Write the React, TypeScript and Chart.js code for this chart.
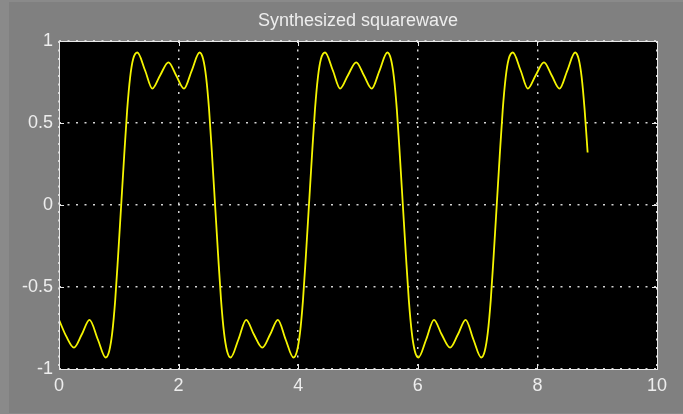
import React, { useEffect, useRef } from "react";
import { Chart, registerables } from "chart.js";

Chart.register(...registerables);

const TITLE = "Synthesized squarewave";

const xValues = [
  0.0, 0.12, 0.25, 0.38, 0.51, 0.65, 0.78, 0.84, 0.89, 0.94, 0.99, 1.04, 1.09, 1.14, 1.19, 1.24,
  1.31, 1.44, 1.56, 1.69, 1.83, 1.96, 2.09, 2.22, 2.35, 2.41, 2.46, 2.51, 2.56, 2.61, 2.66, 2.71,
  2.76, 2.81, 2.87, 3.0, 3.13, 3.26, 3.4, 3.53, 3.66, 3.79, 3.92, 3.98, 4.03, 4.08, 4.13, 4.18,
  4.23, 4.28, 4.33, 4.38, 4.45, 4.58, 4.7, 4.83, 4.97, 5.1, 5.23, 5.36, 5.49, 5.55, 5.6, 5.65,
  5.7, 5.75, 5.8, 5.85, 5.9, 5.95, 6.01, 6.14, 6.27, 6.4, 6.54, 6.67, 6.8, 6.93, 7.06, 7.12,
  7.17, 7.22, 7.27, 7.32, 7.37, 7.42, 7.47, 7.52, 7.59, 7.72, 7.84, 7.97, 8.11, 8.24, 8.37, 8.5,
  8.63, 8.69, 8.74, 8.79, 8.84,
];

const yValues = [
  -0.7, -0.8, -0.87, -0.79, -0.7, -0.82, -0.93, -0.89, -0.78, -0.58, -0.3, 0.0, 0.3, 0.58, 0.78, 0.89,
  0.93, 0.82, 0.71, 0.79, 0.87, 0.79, 0.71, 0.82, 0.93, 0.89, 0.78, 0.58, 0.3, 0.0, -0.3, -0.58,
  -0.78, -0.89, -0.93, -0.82, -0.7, -0.79, -0.87, -0.79, -0.7, -0.82, -0.93, -0.89, -0.78, -0.58, -0.3, 0.0,
  0.3, 0.58, 0.78, 0.89, 0.93, 0.82, 0.71, 0.79, 0.87, 0.79, 0.71, 0.82, 0.93, 0.89, 0.78, 0.58,
  0.3, 0.0, -0.3, -0.58, -0.78, -0.89, -0.93, -0.82, -0.7, -0.79, -0.87, -0.79, -0.7, -0.82, -0.93, -0.89,
  -0.78, -0.58, -0.3, 0.0, 0.3, 0.58, 0.78, 0.89, 0.93, 0.82, 0.71, 0.79, 0.87, 0.79, 0.71, 0.82,
  0.93, 0.89, 0.78, 0.58, 0.32,
];

const xTickValues = [0, 2, 4, 6, 8, 10];
const xTickLabels = ["0", "2", "4", "6", "8", "10"];
const yTickValues = [-1, -0.5, 0, 0.5, 1];
const yTickLabels = ["-1", "-0.5", "0", "0.5", "1"];

const FONT = '"Liberation Sans", Arial, sans-serif';
const TEXT_COLOR = "#ededed";
const FRAME_COLOR = "#e8e8e8";
const GRID_COLOR = "#d4d4d4";

export default function App() {
  const ref = useRef<HTMLCanvasElement>(null);

  useEffect(() => {
    const canvas = ref.current;
    if (!canvas) return;

    const bgPlugin = {
      id: "bgPlugin",
      beforeDraw(chart: any) {
        const { ctx, chartArea: a, width, height } = chart;
        ctx.save();
        ctx.fillStyle = "#8a8a8a";
        ctx.fillRect(0, 0, width, height);
        ctx.fillStyle = "#808080";
        ctx.fillRect(9, 2, width - 9, height - 3);
        ctx.fillStyle = "#000000";
        ctx.fillRect(a.left, a.top, a.right - a.left, a.bottom - a.top);
        ctx.restore();
      },
    };

    const framePlugin = {
      id: "framePlugin",
      afterDatasetsDraw(chart: any) {
        const { ctx, chartArea: a, scales } = chart;
        ctx.save();
        ctx.strokeStyle = FRAME_COLOR;
        ctx.lineWidth = 1;
        ctx.setLineDash([]);
        ctx.beginPath();
        for (const v of xTickValues) {
          const px = Math.round(scales.x.getPixelForValue(v)) + 0.5;
          ctx.moveTo(px, a.top);
          ctx.lineTo(px, a.top + 5);
          ctx.moveTo(px, a.bottom);
          ctx.lineTo(px, a.bottom - 5);
        }
        for (const v of yTickValues) {
          const py = Math.round(scales.y.getPixelForValue(v)) + 0.5;
          ctx.moveTo(a.left, py);
          ctx.lineTo(a.left + 5, py);
          ctx.moveTo(a.right, py);
          ctx.lineTo(a.right - 5, py);
        }
        ctx.stroke();
        ctx.strokeRect(a.left + 0.5, a.top + 0.5, a.right - a.left, a.bottom - a.top);
        ctx.restore();
      },
    };

    const tickFont = { family: FONT, size: 18, lineHeight: 1.2 };

    const chart = new Chart(canvas, {
      type: "line",
      data: {
        datasets: [
          {
            data: xValues.map((x, i) => ({ x, y: yValues[i] })),
            borderColor: "#f5f500",
            borderWidth: 1.8,
            pointRadius: 0,
            fill: false,
            cubicInterpolationMode: "monotone",
          },
        ],
      },
      options: {
        responsive: false,
        animation: false,
        devicePixelRatio: 1,
        layout: { padding: { left: 0, right: 26, top: 0, bottom: 0 } },
        plugins: {
          legend: { display: false },
          tooltip: { enabled: false },
          title: {
            display: true,
            text: TITLE,
            fullSize: false,
            color: TEXT_COLOR,
            font: { family: FONT, size: 18, weight: "normal", lineHeight: 1 },
            padding: { top: 12, bottom: 11 },
          },
        },
        scales: {
          x: {
            type: "linear",
            min: 0,
            max: 10,
            afterBuildTicks: (s: any) => {
              s.ticks = xTickValues.map((v) => ({ value: v }));
            },
            afterFit: (s: any) => {
              s.height = 45;
            },
            ticks: {
              color: TEXT_COLOR,
              font: tickFont,
              padding: 6,
              maxRotation: 0,
              autoSkip: false,
              callback: (v: any) => {
                const i = xTickValues.indexOf(Number(v));
                return i >= 0 ? xTickLabels[i] : "";
              },
            },
            grid: { color: GRID_COLOR, lineWidth: 1.5, drawTicks: false },
            border: { display: false, dash: [2, 6.5] },
          },
          y: {
            type: "linear",
            min: -1,
            max: 1,
            afterBuildTicks: (s: any) => {
              s.ticks = yTickValues.map((v) => ({ value: v }));
            },
            afterFit: (s: any) => {
              s.width = 59;
            },
            ticks: {
              color: TEXT_COLOR,
              font: tickFont,
              padding: 6,
              autoSkip: false,
              callback: (v: any) => {
                const i = yTickValues.indexOf(Number(v));
                return i >= 0 ? yTickLabels[i] : "";
              },
            },
            grid: { color: GRID_COLOR, lineWidth: 1.5, drawTicks: false },
            border: { display: false, dash: [2, 6.5] },
          },
        },
      },
      plugins: [bgPlugin, framePlugin],
    } as any);

    return () => chart.destroy();
  }, []);

  return (
    <div style={{ position: "fixed", left: 0, top: 0, width: 683, height: 414 }}>
      <canvas ref={ref} width={683} height={414} style={{ display: "block", width: 683, height: 414 }} />
    </div>
  );
}
